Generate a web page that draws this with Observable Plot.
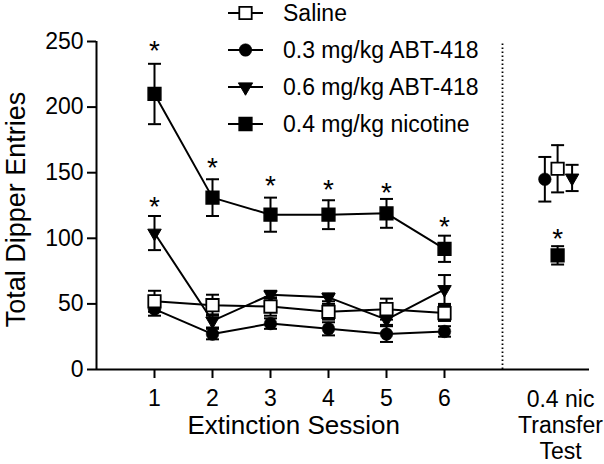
<!DOCTYPE html>
<html>
<head>
<meta charset="utf-8">
<script src="https://cdn.jsdelivr.net/npm/d3@7"></script>
<script src="https://cdn.jsdelivr.net/npm/@observablehq/plot@0.6"></script>
<style>
  html, body { margin: 0; padding: 0; background: white; }
  #wrap { position: relative; width: 604px; height: 464px; }
  #legend { position: absolute; left: 0; top: 0; pointer-events: none; }
</style>
</head>
<body>
<div id="wrap"></div>
<script>
// ---- data ----
const sessions = [1, 2, 3, 4, 5, 6];
const seriesNames = ["Saline", "0.3 mg/kg ABT-418", "0.6 mg/kg ABT-418", "0.4 mg/kg nicotine"];

const salineMean = [52, 49, 48, 44, 46, 43];
const salineSem  = [8, 8, 7, 6, 8, 6];
const abt03Mean  = [46, 27, 35, 31, 27, 29];
const abt03Sem   = [5, 4, 4, 5, 6, 4];
const abt06Mean  = [104, 37, 57, 55, 38, 61];
const abt06Sem   = [13, 5, 3, 3, 4, 11];
const nicMean    = [210, 131, 118, 118, 119, 92];
const nicSem     = [23, 14, 13, 11, 11, 10];

// 0.4 nic transfer test (saline, 0.3 ABT, 0.6 ABT, nicotine)
const transferMean = [153, 145, 146, 87];
const transferSem  = [18, 17, 10, 7];

// significance stars: series index, x (session or "transfer"), y value
const starSeries = [3, 3, 3, 3, 3, 3, 3, 2];
const starX      = [1, 2, 3, 4, 5, 6, "transfer", 1];
const starY      = [248, 159, 145, 142, 140, 114, 105, 129];

const yTicks = [0, 50, 100, 150, 200, 250];
const xTickLabels = ["1", "2", "3", "4", "5", "6"];
const transferLabel = "0.4 nic\nTransfer\nTest";
const xTitle = "Extinction Session";
const yTitle = "Total Dipper Entries";

// ---- layout helpers ----
const transferPos = 8;
const dodge = [-0.05, -0.27, 0.2, -0.05];
const separatorPos = 7;
const means = [salineMean, abt03Mean, abt06Mean, nicMean];
const sems = [salineSem, abt03Sem, abt06Sem, nicSem];

const rows = [];
means.forEach((m, si) => {
  sessions.forEach((s, i) => rows.push({s: si, x: s, y: m[i], sem: sems[si][i], session: true}));
  rows.push({s: si, x: transferPos + dodge[si], y: transferMean[si], sem: transferSem[si], session: false});
});
const stars = starX.map((x, i) => ({
  x: x === "transfer" ? transferPos + dodge[starSeries[i]] : x,
  y: starY[i]
}));

const capSymbol = {
  draw(ctx, size) { const r = Math.sqrt(size / Math.PI); ctx.moveTo(-r, 0); ctx.lineTo(r, 0); }
};

const markerStyle = [
  {symbol: "square", r: 7.0, fill: "white", stroke: "black", strokeWidth: 1.8},
  {symbol: "circle", r: 6.3, fill: "black", stroke: "black", strokeWidth: 0.5},
  {symbol: "triangle", r: 5.0, fill: "black", stroke: "black", strokeWidth: 1, rotate: 180},
  {symbol: "square", r: 7.2, fill: "black", stroke: "black", strokeWidth: 1.5}
];
const drawOrder = [3, 2, 1, 0];

const marks = [];
// connecting lines (behind everything)
marks.push(Plot.line(rows.filter(d => d.session), {x: "x", y: "y", z: "s", stroke: "black", strokeWidth: 2}));
drawOrder.forEach(si => {
  const r = rows.filter(d => d.s === si);
  marks.push(Plot.ruleX(r, {x: "x", y1: d => d.y - d.sem, y2: d => d.y + d.sem, stroke: "black", strokeWidth: 2}));
  marks.push(Plot.dot(r, {x: "x", y: d => d.y + d.sem, symbol: capSymbol, r: 6.5, stroke: "black", strokeWidth: 2, fill: "none"}));
  marks.push(Plot.dot(r, {x: "x", y: d => d.y - d.sem, symbol: capSymbol, r: 6.5, stroke: "black", strokeWidth: 2, fill: "none"}));
  marks.push(Plot.dot(r, {x: "x", y: "y", ...markerStyle[si]}));
});

const chart = Plot.plot({
  width: 604,
  height: 464,
  marginLeft: 96,
  marginRight: 15,
  marginTop: 41,
  marginBottom: 95,
  x: {domain: [0, 8.5], axis: null},
  y: {domain: [0, 250], axis: null},
  style: {fontFamily: "'Liberation Sans', Arial, Helvetica, sans-serif", color: "black", background: "white", overflow: "visible"},
  marks: [
    // dotted separator
    Plot.ruleX([separatorPos], {y1: 0, y2: 250, stroke: "black", strokeWidth: 1.8, strokeDasharray: "1.6,2.4"}),
    // axes
    Plot.ruleY([0], {stroke: "black", strokeWidth: 2}),
    Plot.ruleX([0], {y1: 0, y2: 250, stroke: "black", strokeWidth: 2}),
    Plot.axisY(yTicks, {tickSize: 9, tickPadding: 4, fontSize: 23, strokeWidth: 2, label: null}),
    Plot.axisX(sessions, {tickSize: 9, tickPadding: 11, fontSize: 23, strokeWidth: 2, label: null, tickFormat: (d, i) => xTickLabels[i]}),
    Plot.text([xTitle], {x: () => 3.4, y: () => 0, text: d => d, fontSize: 26, lineAnchor: "top", dy: 46.5}),
    Plot.text([transferLabel], {x: () => transferPos, y: () => 0, text: d => d, fontSize: 23, lineAnchor: "top", lineHeight: 1.13, dy: 19}),
    Plot.text([yTitle], {frameAnchor: "left", textAnchor: "middle", text: d => d, rotate: -90, fontSize: 27, dx: -80.6, dy: 4}),
    ...marks,
    Plot.text(stars, {x: "x", y: "y", text: () => "*", fontSize: 28, dy: 7})
  ]
});

const wrap = document.getElementById("wrap");
wrap.appendChild(chart);

// ---- legend overlay ----
const legendRowY = [13, 50, 87, 124];
const lg = d3.select(wrap).append("svg")
  .attr("id", "legend").attr("width", 604).attr("height", 464)
  .style("font-family", "'Liberation Sans', Arial, Helvetica, sans-serif");
seriesNames.forEach((name, si) => {
  const g = lg.append("g").attr("transform", `translate(0,${legendRowY[si]})`);
  g.append("line").attr("x1", 228).attr("x2", 263).attr("y1", 0).attr("y2", 0)
    .attr("stroke", "black").attr("stroke-width", 2);
  const st = markerStyle[si];
  const sym = st.symbol === "square" ? d3.symbolSquare : st.symbol === "circle" ? d3.symbolCircle : d3.symbolTriangle;
  const rr = st.symbol === "triangle" ? 5.3 : st.r;
  g.append("path")
    .attr("d", d3.symbol(sym, Math.PI * rr * rr)())
    .attr("transform", `translate(245.5,0) rotate(${st.rotate || 0})`)
    .attr("fill", st.fill).attr("stroke", st.stroke).attr("stroke-width", st.strokeWidth);
  g.append("text").attr("x", 283).attr("y", 0).attr("dy", "0.35em")
    .attr("font-size", 23).attr("fill", "black").text(name);
});
</script>
</body>
</html>
